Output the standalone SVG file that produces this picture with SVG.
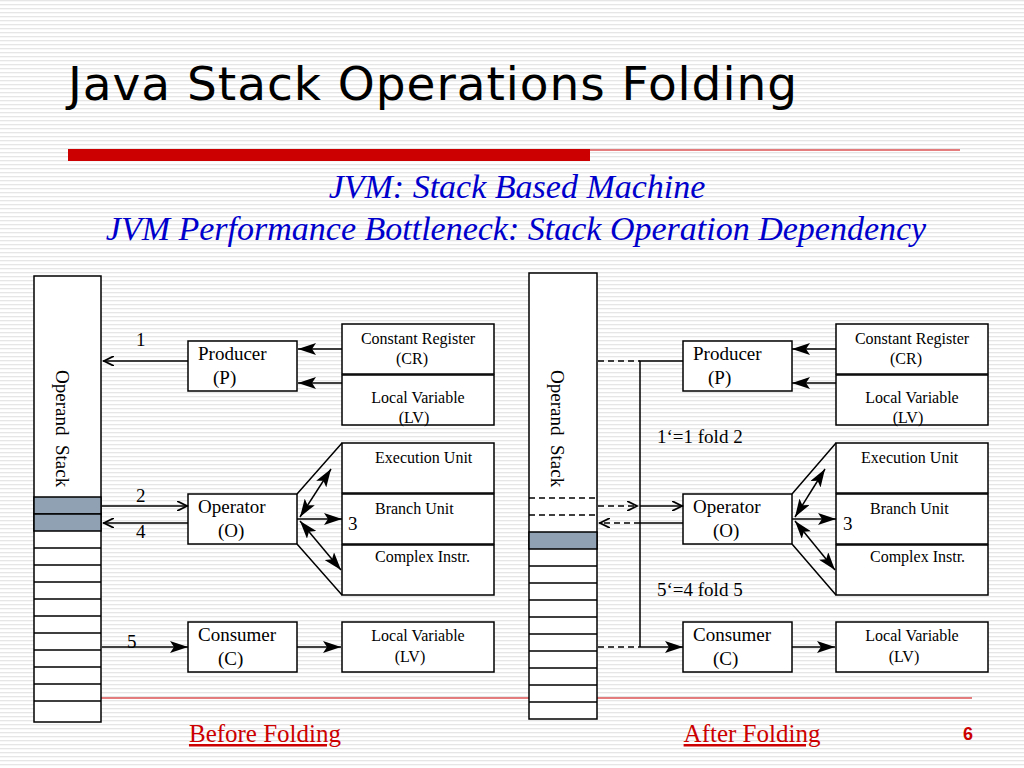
<svg xmlns="http://www.w3.org/2000/svg" width="1024" height="768" viewBox="0 0 1024 768">
<defs>
<pattern id="st" width="4" height="4" patternUnits="userSpaceOnUse"><rect width="4" height="4" fill="#fff"/><rect width="4" height="1.3" fill="#e6e6e6"/></pattern>
<marker id="b" viewBox="0 0 18 12" refX="18" refY="6" markerWidth="18" markerHeight="12" markerUnits="userSpaceOnUse" orient="auto-start-reverse"><path d="M0,0 L18,6 L0,12 L4,6 Z" fill="#000"/></marker>
<marker id="o" viewBox="0 0 12 10" refX="11" refY="5" markerWidth="12" markerHeight="10" markerUnits="userSpaceOnUse" orient="auto"><path d="M0,0 L10,5 L0,10" fill="none" stroke="#000" stroke-width="1.8"/></marker>
</defs>
<style>
.bx{fill:#fff;stroke:#000;stroke-width:1.5}
.ln{stroke:#000;stroke-width:1.5;fill:none}
.ds{stroke:#000;stroke-width:1.5;fill:none;stroke-dasharray:6,4}
.t{font-family:"Liberation Serif",serif;font-size:19px;fill:#000}
.s{font-family:"Liberation Serif",serif;font-size:16px;fill:#000}
.sh{fill:#8fa1b3;stroke:#000;stroke-width:1.5}
</style>
<rect width="1024" height="768" fill="url(#st)"/>
<text x="68" y="100" font-family="DejaVu Sans,sans-serif" font-size="47" textLength="729" fill="#000">Java Stack Operations Folding</text>
<rect x="68" y="149" width="522" height="12" fill="#cc0000"/>
<line x1="590" y1="150" x2="960" y2="150" stroke="#cc0000" stroke-width="1"/>
<text x="517" y="198" text-anchor="middle" font-family="Liberation Serif,serif" font-style="italic" font-size="34" fill="#0000cc">JVM: Stack Based Machine</text>
<text x="516" y="240" text-anchor="middle" font-family="Liberation Serif,serif" font-style="italic" font-size="34" fill="#0000cc">JVM Performance Bottleneck: Stack Operation Dependency</text>
<line x1="100" y1="698" x2="972" y2="698" stroke="#cc0000" stroke-width="1"/>
<text x="265" y="742" text-anchor="middle" font-family="Liberation Serif,serif" font-size="25" fill="#cc0000" text-decoration="underline">Before Folding</text>
<text x="752" y="742" text-anchor="middle" font-family="Liberation Serif,serif" font-size="25" fill="#cc0000" text-decoration="underline">After Folding</text>
<text x="968" y="740" text-anchor="middle" font-family="Liberation Sans,sans-serif" font-weight="bold" font-size="18" fill="#cc0000">6</text>

<g id="left-stack">
<rect class="bx" x="34" y="276" width="67" height="446"/>
<rect class="sh" x="34" y="497" width="67" height="17"/>
<rect class="sh" x="34" y="514" width="67" height="17"/>
<path class="ln" d="M34,548H101M34,565H101M34,582H101M34,599H101M34,616H101M34,633H101M34,650H101M34,667H101M34,684H101M34,701H101"/>
<text class="t" xml:space="preserve" transform="translate(56,370) rotate(90)">Operand  Stack</text>
</g>
<g id="left-producer"><rect class="bx" x="188" y="341" width="109" height="50"/><text class="t" x="198" y="360">Producer</text><text class="t" x="213" y="384">(P)</text></g>
<g id="left-cr"><rect class="bx" x="342" y="324" width="152" height="50"/><text class="s" x="418" y="344" text-anchor="middle">Constant Register</text><text class="s" x="412" y="364" text-anchor="middle">(CR)</text></g>
<g id="left-lv1"><rect class="bx" x="342" y="375" width="152" height="50"/><text class="s" x="418" y="403" text-anchor="middle">Local Variable</text><text class="s" x="414" y="423" text-anchor="middle">(LV)</text></g>
<g id="left-operator"><rect class="bx" x="188" y="494" width="109" height="50"/><text class="t" x="198" y="513">Operator</text><text class="t" x="218" y="537">(O)</text></g>
<g id="left-exec"><rect class="bx" x="342" y="443" width="152" height="50"/><text class="s" x="375" y="463">Execution Unit</text></g>
<g id="left-branch"><rect class="bx" x="342" y="494" width="152" height="50"/><text class="s" x="375" y="514">Branch Unit</text></g>
<g id="left-complex"><rect class="bx" x="342" y="545" width="152" height="50"/><text class="s" x="375" y="562">Complex Instr.</text></g>
<g id="left-consumer"><rect class="bx" x="188" y="622" width="109" height="50"/><text class="t" x="198" y="641">Consumer</text><text class="t" x="218" y="665">(C)</text></g>
<g id="left-lv2"><rect class="bx" x="342" y="622" width="152" height="50"/><text class="s" x="418" y="641" text-anchor="middle">Local Variable</text><text class="s" x="410" y="662" text-anchor="middle">(LV)</text></g>

<g id="right-stack">
<rect class="bx" x="529" y="273" width="68" height="446"/>
<path class="ds" d="M529,498H597M529,515H597"/>
<rect class="sh" x="529" y="532" width="68" height="17"/>
<path class="ln" d="M529,566H597M529,583H597M529,600H597M529,617H597M529,634H597M529,651H597M529,668H597M529,685H597M529,702H597"/>
<text class="t" xml:space="preserve" transform="translate(551,370) rotate(90)">Operand  Stack</text>
</g>
<g id="right-producer"><rect class="bx" x="683" y="341" width="109" height="50"/><text class="t" x="693" y="360">Producer</text><text class="t" x="708" y="384">(P)</text></g>
<g id="right-cr"><rect class="bx" x="836" y="324" width="152" height="50"/><text class="s" x="912" y="344" text-anchor="middle">Constant Register</text><text class="s" x="906" y="364" text-anchor="middle">(CR)</text></g>
<g id="right-lv1"><rect class="bx" x="836" y="375" width="152" height="50"/><text class="s" x="912" y="403" text-anchor="middle">Local Variable</text><text class="s" x="908" y="423" text-anchor="middle">(LV)</text></g>
<g id="right-operator"><rect class="bx" x="683" y="494" width="109" height="50"/><text class="t" x="693" y="513">Operator</text><text class="t" x="713" y="537">(O)</text></g>
<g id="right-exec"><rect class="bx" x="836" y="443" width="152" height="50"/><text class="s" x="861" y="463">Execution Unit</text></g>
<g id="right-branch"><rect class="bx" x="836" y="494" width="152" height="50"/><text class="s" x="870" y="514">Branch Unit</text></g>
<g id="right-complex"><rect class="bx" x="836" y="545" width="152" height="50"/><text class="s" x="870" y="562">Complex Instr.</text></g>
<g id="right-consumer"><rect class="bx" x="683" y="622" width="109" height="50"/><text class="t" x="693" y="641">Consumer</text><text class="t" x="713" y="665">(C)</text></g>
<g id="right-lv2"><rect class="bx" x="836" y="622" width="152" height="50"/><text class="s" x="912" y="641" text-anchor="middle">Local Variable</text><text class="s" x="904" y="662" text-anchor="middle">(LV)</text></g>

<g id="connectors">
<line class="ln" x1="188" y1="361" x2="103" y2="361" marker-end="url(#o)"/>
<line class="ln" x1="342" y1="349" x2="298" y2="349" marker-end="url(#b)"/>
<line class="ln" x1="342" y1="383" x2="298" y2="383" marker-end="url(#b)"/>
<line class="ln" x1="102" y1="506" x2="188" y2="506" marker-end="url(#o)"/>
<line class="ln" x1="188" y1="523" x2="103" y2="523" marker-end="url(#o)"/>
<line class="ln" x1="297" y1="519" x2="342" y2="519" marker-end="url(#b)"/>
<path class="ln" d="M297,494L342,443M297,544L342,595"/>
<line class="ln" x1="300" y1="517" x2="331" y2="469" marker-start="url(#b)" marker-end="url(#b)"/>
<line class="ln" x1="300" y1="521" x2="341" y2="570" marker-start="url(#b)" marker-end="url(#b)"/>
<line class="ln" x1="102" y1="647" x2="188" y2="647" marker-end="url(#b)"/>
<line class="ln" x1="297" y1="647" x2="341" y2="647" marker-end="url(#b)"/>
<text class="t" x="136" y="346">1</text>
<text class="t" x="136" y="502">2</text>
<text class="t" x="136" y="538">4</text>
<text class="t" x="127" y="648">5</text>
<text class="t" x="348" y="530">3</text>

<line class="ds" x1="598" y1="361" x2="640" y2="361"/>
<path class="ln" d="M683,361H640V647"/>
<line class="ds" x1="598" y1="506" x2="638" y2="506" marker-end="url(#o)"/>
<line class="ln" x1="640" y1="506" x2="683" y2="506" marker-end="url(#o)"/>
<line class="ds" x1="640" y1="523" x2="599" y2="523" marker-end="url(#o)"/>
<line class="ln" x1="683" y1="523" x2="640" y2="523"/>
<line class="ds" x1="598" y1="647" x2="640" y2="647"/>
<line class="ln" x1="640" y1="647" x2="683" y2="647" marker-end="url(#b)"/>
<line class="ln" x1="836" y1="349" x2="792" y2="349" marker-end="url(#b)"/>
<line class="ln" x1="836" y1="383" x2="792" y2="383" marker-end="url(#b)"/>
<line class="ln" x1="792" y1="519" x2="836" y2="519" marker-end="url(#b)"/>
<path class="ln" d="M792,494L836,443M792,544L836,595"/>
<line class="ln" x1="795" y1="517" x2="825" y2="469" marker-start="url(#b)" marker-end="url(#b)"/>
<line class="ln" x1="795" y1="521" x2="835" y2="570" marker-start="url(#b)" marker-end="url(#b)"/>
<line class="ln" x1="792" y1="647" x2="835" y2="647" marker-end="url(#b)"/>
<text class="t" x="657" y="443">1‘=1 fold 2</text>
<text class="t" x="657" y="596">5‘=4 fold 5</text>
<text class="t" x="843" y="530">3</text>
</g>
</svg>
